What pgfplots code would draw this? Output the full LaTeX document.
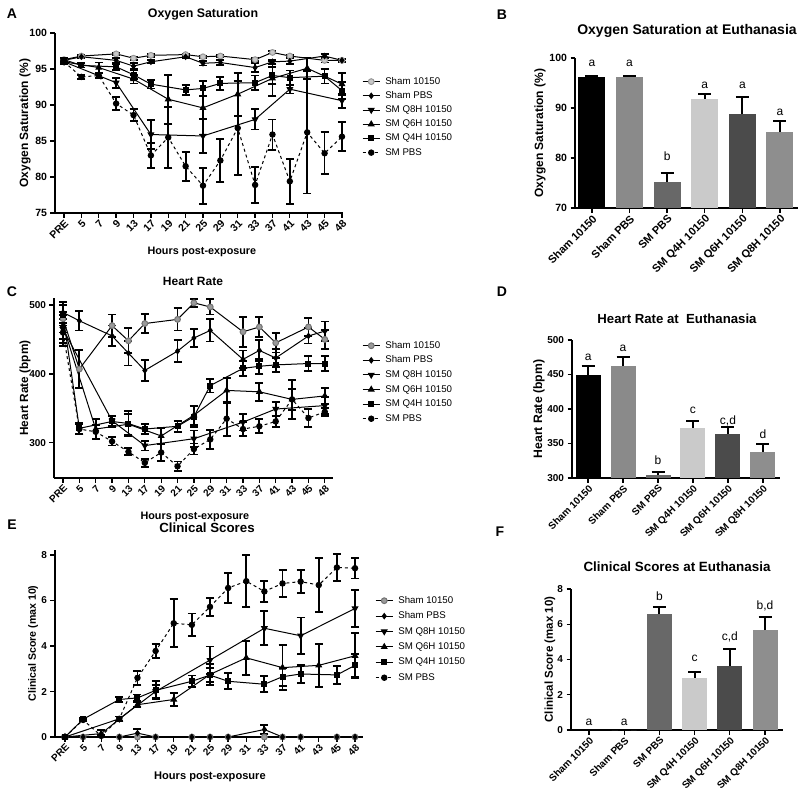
\documentclass[border=0pt]{standalone}
\usepackage{pgfplots}
\pgfplotsset{compat=1.18}
\usepackage{fontspec}
\setmainfont{Liberation Sans}
\newcommand\fs[1]{\fontsize{#1}{#1}\selectfont}

\definecolor{gA}{HTML}{C8C8C8}
\definecolor{gC}{HTML}{9A9A9A}
\definecolor{b2}{HTML}{8A8A8A}
\definecolor{b3}{HTML}{686868}
\definecolor{b4}{HTML}{CACACA}
\definecolor{b5}{HTML}{4B4B4B}
\definecolor{b6}{HTML}{8E8E8E}

\pgfplotsset{
  prism/.style={scale only axis, anchor=south west,
    axis x line*=bottom, axis y line*=left,
    axis line style={-, line width=1.5pt},
    tick align=outside, major tick length=4.5pt,
    tick style={line width=1.3pt, black},
    /pgf/number format/assume math mode=true,
    ticklabel style={font=\bfseries\fs{10.5}},
    xlabel style={font=\bfseries\fs{10.8}},
    ylabel style={font=\bfseries\fs{12}},
  },
  timeax/.style={prism, clip=false,
    xtick={0,...,16},
    xticklabels={PRE,5,7,9,13,17,19,21,25,29,31,33,37,41,43,45,48},
    x tick label style={rotate=45, anchor=north east, inner sep=1pt},
    xlabel={Hours post-exposure},
    legend cell align=left,
    legend style={draw=none, fill=none, anchor=north west, inner sep=0pt, font=\fs{9.7},
      nodes={inner ysep=0pt, inner xsep=1pt, text height=7pt, text depth=2pt}, column sep=4pt},
  },
  barax/.style={prism, ybar, bar width=#1, bar shift=0pt, clip mode=individual,
    xtick={0,...,5},
    xticklabels={Sham 10150, Sham PBS, SM PBS, SM Q4H 10150, SM Q6H 10150, SM Q8H 10150},
    x tick label style={rotate=45, anchor=north east, inner sep=1pt},
    every axis plot/.append style={draw=none,
      error bars/y dir=plus, error bars/y explicit,
      error bars/error bar style={draw=black, line width=2pt},
      error bars/error mark options={draw=black, line width=2pt, mark size=6.5pt, rotate=90}},
  },
  ln/.style={black, line width=1pt, solid,
    error bars/y dir=both, error bars/y explicit,
    error bars/error bar style={solid, line width=1.8pt},
    error bars/error mark options={solid, line width=1.8pt, mark size=4pt, rotate=90}},
  s10/.style={ln, mark=*, mark size=2.9pt, mark options={solid, fill=#1, draw=#1!75!black}},
  spbs/.style={ln, mark=diamond*, mark size=2.6pt, mark options={solid, fill=black}},
  q8/.style={ln, mark=triangle*, mark size=3.1pt, mark options={solid, fill=black, rotate=180}},
  q6/.style={ln, mark=triangle*, mark size=3.1pt, mark options={solid, fill=black}},
  q4/.style={ln, mark=square*, mark size=2.5pt, mark options={solid, fill=black}},
  smp/.style={ln, dashed, mark=*, mark size=2.7pt, mark options={solid, fill=black}},
}

\begin{document}
\begin{tikzpicture}
\path[use as bounding box] (0,0) rectangle (800pt,-793pt);

% ---------------- A: oxygen saturation over time
\begin{axis}[timeax, at={(55pt,-213pt)}, width=288pt, height=180pt,
  xmin=-0.52, xmax=16.06, ymin=75, ymax=100, ytick={75,80,...,100},
  ylabel={Oxygen Saturation (\%)},
  ylabel style={at={(axis description cs:-0.104,0.5)}, anchor=center},
  xlabel style={at={(axis description cs:0.51,-0.217)}, anchor=center},
  legend style={at={(axis description cs:1.066,0.756)}, row sep=5.2pt}]
\addplot[s10=gA] table[y error=e] {
x y e
0 96.3 0.2
1 96.8 0.15
3 97.1 0.15
4 96.5 0.2
5 96.9 0.2
7 97.0 0.15
8 96.7 0.15
9 96.8 0.15
11 96.3 0.2
12 97.3 0.15
13 96.8 0.15
15 96.2 0.3
16 96.2 0.15
};
\addplot[spbs] table[y error=e] {
x y e
0 96.2 0.3
1 96.7 0.2
3 96.2 0.3
4 95.4 0.4
5 96.0 0.2
7 96.7 0.2
8 95.8 0.3
9 95.9 0.3
11 95.2 0.6
12 96.0 0.3
13 96.1 0.4
15 96.8 0.3
16 96.2 0.2
};
\addplot[q8] table[y error=e] {
x y e
0 96.0 0.3
3 93.1 0.7
5 85.9 2.0
8 85.7 2.4
11 88.0 1.4
13 92.2 0.6
16 90.6 1.0
};
\addplot[q6] table[y error=e] {
x y e
0 96.0 0.3
2 95.2 0.7
4 93.6 0.6
6 90.8 3.4
8 89.6 3.7
10 91.5 3.0
12 93.7 2.4
14 95.1 1.5
16 92.9 1.5
};
\addplot[q4] table[y error=e] {
x y e
0 96.3 0.3
1 95.5 0.3
3 95.3 0.4
4 94.2 0.6
5 92.9 0.6
7 92.1 0.7
8 92.3 1.0
9 93.0 0.9
11 93.1 1.0
12 94.1 1.2
13 93.8 1.0
15 94.0 1.0
16 92.0 1.2
};
\addplot[smp] table[y error=e] {
x y e
0 96.0 0.3
1 93.9 0.3
2 94.1 0.3
3 90.2 0.9
4 88.6 0.8
5 83.0 1.7
6 85.5 4.2
7 81.5 2.0
8 78.8 2.5
9 82.3 3.0
10 86.8 6.5
11 78.9 2.5
12 85.9 2.1
13 79.4 3.1
14 86.2 8.5
15 83.3 2.9
16 85.6 2.0
};
\legend{Sham 10150, Sham PBS, SM Q8H 10150, SM Q6H 10150, SM Q4H 10150, SM PBS}
\end{axis}

% ---------------- B: oxygen saturation at euthanasia
\begin{axis}[barax=27pt, at={(575pt,-208pt)}, width=223pt, height=150pt,
  xmin=-0.45, xmax=5.48, ymin=70, ymax=100, ytick={70,80,90,100},
  x tick label style={font=\bfseries\fs{11}},
  ylabel={Oxygen Saturation (\%)},
  ylabel style={at={(axis description cs:-0.157,0.5)}, anchor=center}]
\addplot[fill=black] coordinates {(0,96.2) +- (0,0.2)};
\addplot[fill=b2] coordinates {(1,96.3) +- (0,0.2)};
\addplot[fill=b3] coordinates {(2,75.3) +- (0,1.8)};
\addplot[fill=b4] coordinates {(3,91.9) +- (0,1.0)};
\addplot[fill=b5] coordinates {(4,88.8) +- (0,3.4)};
\addplot[fill=b6] coordinates {(5,85.2) +- (0,2.3)};
\node[font=\fs{12}, anchor=base] at (axis cs:0,98.4) {a};
\node[font=\fs{12}, anchor=base] at (axis cs:1,98.4) {a};
\node[font=\fs{12}, anchor=base] at (axis cs:2,79.6) {b};
\node[font=\fs{12}, anchor=base] at (axis cs:3,94.0) {a};
\node[font=\fs{12}, anchor=base] at (axis cs:4,94.0) {a};
\node[font=\fs{12}, anchor=base] at (axis cs:5,88.6) {a};
\end{axis}

% ---------------- C: heart rate over time
\begin{axis}[timeax, at={(54pt,-478pt)}, width=279pt, height=180pt,
  xmin=-0.55, xmax=16.5, ymin=249, ymax=510, ytick={300,400,500},
  ticklabel style={font=\bfseries\fs{10}},
  ylabel={Heart Rate (bpm)},
  ylabel style={at={(axis description cs:-0.104,0.5)}, anchor=center, font=\bfseries\fs{11.8}},
  xlabel style={at={(axis description cs:0.505,-0.217)}, anchor=center},
  legend style={at={(axis description cs:1.104,0.761)}, row sep=5.6pt}]
\addplot[s10=gC] table[y error=e] {
x y e
0 480 20
1 407 28
3 470 16
4 448 18
5 473 14
7 479 16
8 503 6
9 497 11
11 461 22
12 468 15
13 445 14
15 468 13
16 450 14
};
\addplot[spbs] table[y error=e] {
x y e
0 489 15
1 477 14
3 455 15
4 430 18
5 405 15
7 433 16
8 452 13
9 463 16
11 421 13
12 434 15
13 423 13
15 455 11
16 462 14
};
\addplot[q8] table[y error=e] {
x y e
0 465 20
3 332 7
5 296 7
8 306 12
11 330 12
13 349 10
16 354 12
};
\addplot[q6] table[y error=e] {
x y e
0 470 20
2 320 15
4 327 15
6 310 12
8 340 14
10 376 18
12 374 13
14 363 28
16 368 12
};
\addplot[q4] table[y error=e] {
x y e
0 485 15
1 321 8
3 331 8
4 328 18
5 320 7
7 324 8
8 338 15
9 383 10
11 408 11
12 411 11
13 413 10
15 415 11
16 415 11
};
\addplot[smp] table[y error=e] {
x y e
0 460 20
1 320 7
2 316 10
3 302 6
4 287 5
5 271 6
6 286 12
7 266 7
8 291 8
9 305 14
10 335 25
11 320 10
12 324 10
13 331 8
14 363 15
15 336 13
16 345 6
};
\legend{Sham 10150, Sham PBS, SM Q8H 10150, SM Q6H 10150, SM Q4H 10150, SM PBS}
\end{axis}

% ---------------- D: heart rate at euthanasia
\begin{axis}[barax=25pt, at={(572pt,-478pt)}, width=208pt, height=138pt,
  xmin=-0.46, xmax=5.49, ymin=300, ymax=500, ytick={300,350,...,500},
  ticklabel style={font=\bfseries\fs{10}},
  ylabel={Heart Rate (bpm)},
  ylabel style={at={(axis description cs:-0.159,0.5)}, anchor=center, font=\bfseries\fs{12.2}}]
\addplot[fill=black] coordinates {(0,450) +- (0,13)};
\addplot[fill=b2] coordinates {(1,462) +- (0,14)};
\addplot[fill=b3] coordinates {(2,304) +- (0,5)};
\addplot[fill=b4] coordinates {(3,373) +- (0,10)};
\addplot[fill=b5] coordinates {(4,364) +- (0,10)};
\addplot[fill=b6] coordinates {(5,338) +- (0,11)};
\node[font=\fs{12}, anchor=base] at (axis cs:0,471) {a};
\node[font=\fs{12}, anchor=base] at (axis cs:1,484) {a};
\node[font=\fs{12}, anchor=base] at (axis cs:2,319) {b};
\node[font=\fs{12}, anchor=base] at (axis cs:3,394) {c};
\node[font=\fs{12}, anchor=base] at (axis cs:4,378) {c,d};
\node[font=\fs{12}, anchor=base] at (axis cs:5,357) {d};
\end{axis}

% ---------------- E: clinical scores over time
\begin{axis}[timeax, at={(55pt,-737pt)}, width=308pt, height=187pt,
  xmin=-0.55, xmax=16.44, ymin=0, ymax=8.22, ytick={0,2,...,8},
  ticklabel style={font=\bfseries\fs{10}},
  ylabel={Clinical Score (max 10)},
  ylabel style={at={(axis description cs:-0.071,0.5)}, anchor=center, font=\bfseries\fs{10.6}},
  xlabel style={at={(axis description cs:0.503,-0.213)}, anchor=center, font=\bfseries\fs{11.1}},
  legend style={at={(axis description cs:1.039,0.754)}, row sep=6.4pt}]
\addplot[s10=gC] table[y error=e] {
x y e
0 0 0
1 0 0
3 0 0
4 0 0
5 0 0
7 0 0
8 0 0
9 0 0
11 0 0
12 0 0
13 0 0
15 0 0
16 0 0
};
\addplot[spbs] table[y error=e] {
x y e
0 0 0
1 0 0
3 0 0
4 0.17 0.17
5 0 0
7 0 0
8 0 0
9 0 0
11 0.33 0.2
12 0 0
13 0 0
15 0 0
16 0 0
};
\addplot[q8] table[y error=e] {
x y e
0 0 0
3 0.8 0.1
5 2.0 0.3
8 3.38 0.6
11 4.78 0.75
13 4.45 0.8
16 5.65 0.8
};
\addplot[q6] table[y error=e] {
x y e
0 0 0
2 0.15 0.15
4 1.42 0.1
6 1.65 0.3
8 2.75 0.45
10 3.48 0.75
12 3.05 1.0
14 3.15 0.95
16 3.57 1.0
};
\addplot[q4] table[y error=e] {
x y e
0 0 0
1 0.78 0.08
3 1.65 0.1
4 1.72 0.15
5 2.05 0.4
7 2.45 0.25
8 2.72 0.3
9 2.45 0.35
11 2.32 0.35
12 2.65 0.4
13 2.77 0.4
15 2.73 0.4
16 3.15 0.5
};
\addplot[smp] table[y error=e] {
x y e
0 0 0
1 0.75 0.05
2 0.05 0.05
3 0.8 0.1
4 2.6 0.3
5 3.78 0.3
6 5.0 1.05
7 4.93 0.5
8 5.72 0.4
9 6.55 0.65
10 6.85 1.15
11 6.4 0.45
12 6.75 0.6
13 6.83 0.5
14 6.68 1.2
15 7.45 0.6
16 7.42 0.45
};
\legend{Sham 10150, Sham PBS, SM Q8H 10150, SM Q6H 10150, SM Q4H 10150, SM PBS}
\end{axis}

% ---------------- F: clinical scores at euthanasia
\begin{axis}[barax=25pt, at={(571pt,-730pt)}, width=212pt, height=141pt,
  xmin=-0.51, xmax=5.51, ymin=0, ymax=8, ytick={0,2,...,8},
  ticklabel style={font=\bfseries\fs{10}},
  ylabel={Clinical Score (max 10)},
  ylabel style={at={(axis description cs:-0.10,0.5)}, anchor=center, font=\bfseries\fs{11.5}}]
\addplot[fill=black] coordinates {(0,0) +- (0,0)};
\addplot[fill=b2] coordinates {(1,0) +- (0,0)};
\addplot[fill=b3] coordinates {(2,6.6) +- (0,0.4)};
\addplot[fill=b4] coordinates {(3,2.97) +- (0,0.3)};
\addplot[fill=b5] coordinates {(4,3.62) +- (0,0.97)};
\addplot[fill=b6] coordinates {(5,5.67) +- (0,0.77)};
\node[font=\fs{12}, anchor=base] at (axis cs:0,0.28) {a};
\node[font=\fs{12}, anchor=base] at (axis cs:1,0.28) {a};
\node[font=\fs{12}, anchor=base] at (axis cs:2,7.33) {b};
\node[font=\fs{12}, anchor=base] at (axis cs:3,3.86) {c};
\node[font=\fs{12}, anchor=base] at (axis cs:4,5.06) {c,d};
\node[font=\fs{12}, anchor=base] at (axis cs:5,6.82) {b,d};
\end{axis}

% ---------------- panel letters and titles
\node[font=\bfseries\fs{14}] at (12pt,-14pt) {A};
\node[font=\bfseries\fs{14}] at (502pt,-15pt) {B};
\node[font=\bfseries\fs{14}] at (12pt,-292pt) {C};
\node[font=\bfseries\fs{14}] at (502pt,-292pt) {D};
\node[font=\bfseries\fs{14}] at (12pt,-525pt) {E};
\node[font=\bfseries\fs{14}] at (500pt,-532pt) {F};
\node[font=\bfseries\fs{12.4}] at (203pt,-14pt) {Oxygen Saturation};
\node[font=\bfseries\fs{14}] at (687pt,-31pt) {Oxygen Saturation at Euthanasia};
\node[font=\bfseries\fs{12}] at (193pt,-281pt) {Heart Rate};
\node[font=\bfseries\fs{13.2}] at (677pt,-319pt) {Heart Rate at\ \ Euthanasia};
\node[font=\bfseries\fs{13.3}] at (207pt,-528pt) {Clinical Scores};
\node[font=\bfseries\fs{13.4}] at (677pt,-567pt) {Clinical Scores at Euthanasia};
\end{tikzpicture}
\end{document}
